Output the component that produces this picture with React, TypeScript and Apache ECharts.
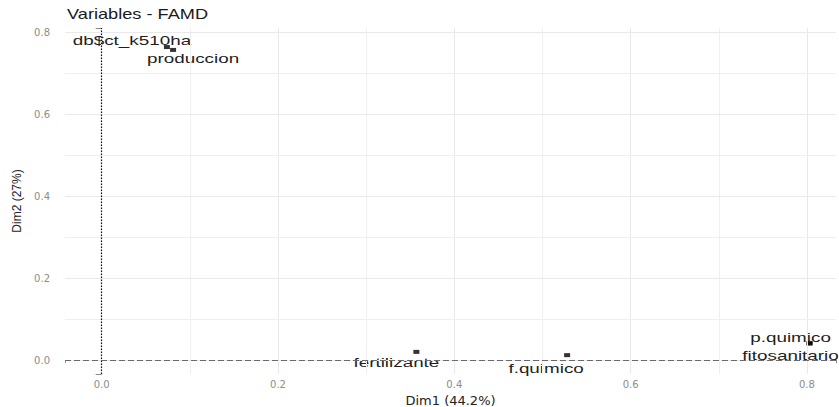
import React, { useEffect, useRef } from "react";
import * as echarts from "echarts";

// ---- data ----
const varNames = ["db$ct_k510ha", "produccion", "fertilizante", "f.quimico", "p.quimico", "fitosanitario"];
const dim1 = [0.074, 0.081, 0.357, 0.528, 0.803, 0.803];
const dim2 = [0.764, 0.757, 0.02, 0.012, 0.042, 0.04];
const tickValues = [0, 0.2, 0.4, 0.6, 0.8];
const minorValues = [0.1, 0.3, 0.5, 0.7];
const titleText = "Variables - FAMD";
const xName = "Dim1 (44.2%)";
const yName = "Dim2 (27%)";

// ---- layout: label nudges (pixels, like ggrepel) ----
const labelNudge: [number, number][] = [
  [-35, -7],
  [20, 8],
  [-20, 10],
  [-21, 13],
  [-19, -6],
  [-19, 12],
];

export default function App() {
  const ref = useRef<HTMLDivElement>(null);
  useEffect(() => {
    if (!ref.current) return;
    const chart = echarts.init(ref.current, null, { renderer: "svg" });
    const points = dim1.map((x, i) => [x, dim2[i], i]);
    const gridLines = [
      ...tickValues.map((v) => ({ xAxis: v, lineStyle: { color: "#e9e9e9", width: 1, type: "solid" } })),
      ...minorValues.map((v) => ({ xAxis: v, lineStyle: { color: "#efefef", width: 1, type: "solid" } })),
      ...tickValues.map((v) => ({ yAxis: v, lineStyle: { color: "#e9e9e9", width: 1, type: "solid" } })),
      ...minorValues.map((v) => ({ yAxis: v, lineStyle: { color: "#efefef", width: 1, type: "solid" } })),
    ];
    const axisLabelBase = {
      fontFamily: "DejaVu Sans",
      fontSize: 10,
      color: "#8c8c8c",
      formatter: (v: number) => Number(v).toFixed(1),
      customValues: tickValues,
    };
    chart.setOption({
      animation: false,
      backgroundColor: "#ffffff",
      graphic: [
        {
          type: "text",
          left: 67,
          top: 7,
          scaleX: 1.3,
          style: {
            text: titleText,
            fontFamily: "Liberation Sans",
            fontSize: 14,
            fill: "#1a1a1a",
          },
        },
      ],
      grid: { left: 65, right: 3, top: 28, bottom: 33, containLabel: false, outerBoundsMode: "none" },
      xAxis: {
        type: "value",
        min: -0.0416,
        max: 0.833,
        name: xName,
        nameLocation: "middle",
        nameGap: 18,
        nameTextStyle: { fontFamily: "DejaVu Sans", fontSize: 13, color: "#222" },
        axisLine: { show: false },
        axisTick: { show: true, length: 3, lineStyle: { color: "#8a8a8a", width: 1 } },
        axisLabel: { ...axisLabelBase, margin: 5 },
        splitLine: { show: false },
      },
      yAxis: {
        type: "value",
        min: -0.034,
        max: 0.8105,
        name: yName,
        nameLocation: "middle",
        nameGap: 41,
        nameRotate: 90,
        nameTextStyle: { fontFamily: "Liberation Sans", fontSize: 12, color: "#222" },
        axisLine: { show: false },
        axisTick: { show: true, length: 6, lineStyle: { color: "#8a8a8a", width: 1 } },
        axisLabel: { ...axisLabelBase, margin: 15 },
        splitLine: { show: false },
      },
      series: [
        {
          type: "line",
          data: [],
          z: 1,
          silent: true,
          markLine: { silent: true, symbol: "none", label: { show: false }, animation: false, data: gridLines },
        },
        {
          type: "scatter",
          z: 3,
          data: points,
          symbol: "rect",
          symbolSize: [6, 4],
          itemStyle: { color: "#000000" },
          markLine: {
            silent: true,
            symbol: "none",
            label: { show: false },
            animation: false,
            data: [
              { xAxis: 0, lineStyle: { color: "#111", width: 1.2, type: [1.5, 1.5] } },
              { yAxis: 0, lineStyle: { color: "#6a6a6a", width: 1, type: [6, 3] } },
            ],
          },
        },
        {
          type: "custom",
          z: 4,
          silent: true,
          data: points,
          renderItem: (params: any, api: any) => {
            const i = api.value(2);
            const pt = api.coord([api.value(0), api.value(1)]);
            const nudge = labelNudge[i];
            return {
              type: "text",
              x: pt[0] + nudge[0],
              y: pt[1] + nudge[1],
              scaleX: 1.45,
              style: {
                text: varNames[i],
                fontFamily: "Liberation Sans",
                fontSize: 13,
                fill: "#1e1e1e",
                align: "center",
                verticalAlign: "middle",
              },
            };
          },
        },
      ],
    });
    return () => chart.dispose();
  }, []);
  return (
    <div
      ref={ref}
      style={{ position: "fixed", left: 0, top: 0, width: 839, height: 407, background: "#fff" }}
    />
  );
}
